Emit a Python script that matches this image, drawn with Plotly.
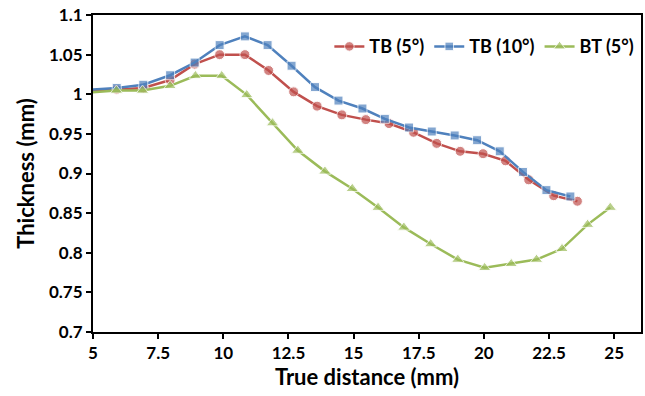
import plotly.graph_objects as go

# Thickness profiles along the true distance
tb5_x = [4.95, 5.91, 6.93, 7.96, 8.90, 9.86, 10.83, 11.74, 12.70, 13.60, 14.55,
         15.47, 16.36, 17.30, 18.19, 19.09, 19.97, 20.83, 21.72, 22.68, 23.59]
tb5_y = [1.004, 1.006, 1.008, 1.018, 1.038, 1.050, 1.050, 1.030, 1.003, 0.985, 0.974,
         0.968, 0.963, 0.952, 0.938, 0.928, 0.925, 0.916, 0.892, 0.872, 0.865]

tb10_x = [4.95, 5.91, 6.93, 7.96, 8.90, 9.86, 10.83, 11.70, 12.62, 13.52, 14.42,
          15.34, 16.20, 17.13, 18.00, 18.88, 19.74, 20.61, 21.50, 22.40, 23.32]
tb10_y = [1.006, 1.008, 1.012, 1.024, 1.040, 1.062, 1.073, 1.062, 1.036, 1.009, 0.992,
          0.982, 0.969, 0.958, 0.953, 0.948, 0.942, 0.928, 0.902, 0.879, 0.871]

bt5_x = [4.95, 5.90, 6.90, 7.96, 8.93, 9.94, 10.90, 11.89, 12.86, 13.90, 14.95,
         15.94, 16.93, 17.96, 19.00, 20.03, 21.05, 22.02, 23.00, 23.98, 24.85]
bt5_y = [1.0025, 1.0047, 1.0047, 1.0106, 1.0232, 1.0232, 0.9992, 0.9636, 0.929, 0.9027, 0.8808,
         0.857, 0.832, 0.811, 0.7914, 0.781, 0.786, 0.7914, 0.805, 0.8355, 0.857]

series_names = ["TB (5°)", "TB (10°)", "BT (5°)"]

x_ticks = [5, 7.5, 10, 12.5, 15, 17.5, 20, 22.5, 25]
x_tick_text = ["5", "7.5", "10", "12.5", "15", "17.5", "20", "22.5", "25"]
y_ticks = [0.7, 0.75, 0.8, 0.85, 0.9, 0.95, 1.0, 1.05, 1.1]
y_tick_text = ["0.7", "0.75", "0.8", "0.85", "0.9", "0.95", "1", "1.05", "1.1"]

FONT = "Lato"

def sizes(n, s):
    # first sample sits just outside the axis range; hide its marker
    return [0] + [s] * (n - 1)

fig = go.Figure()
fig.add_trace(go.Scatter(
    x=tb5_x, y=tb5_y, name=series_names[0], mode="lines+markers",
    line=dict(color="#C0504D", width=2.5),
    marker=dict(symbol="circle", size=sizes(len(tb5_x), 10), color="#C0504D"),
))
fig.add_trace(go.Scatter(
    x=tb10_x, y=tb10_y, name=series_names[1], mode="lines+markers",
    line=dict(color="#4F81BD", width=2.5),
    marker=dict(symbol="square", size=sizes(len(tb10_x), 9), color="#4F81BD"),
))
fig.add_trace(go.Scatter(
    x=bt5_x, y=bt5_y, name=series_names[2], mode="lines+markers",
    line=dict(color="#9BBB59", width=2.5),
    marker=dict(symbol="triangle-up", size=sizes(len(bt5_x), 11), color="#9BBB59"),
))

axis_common = dict(
    showline=True, mirror=True, linecolor="black", linewidth=2,
    ticks="outside", ticklen=5, tickwidth=2, tickcolor="black",
    showgrid=False, zeroline=False,
    tickfont=dict(family=FONT, size=17, color="black", weight="bold"),
)

fig.update_xaxes(
    range=[5, 26.03], tickmode="array", tickvals=x_ticks, ticktext=x_tick_text,
    title=dict(text="True distance (mm)", standoff=6,
               font=dict(family=FONT, size=22, color="black", weight="bold")),
    **axis_common,
)
fig.update_yaxes(
    range=[0.7, 1.1], tickmode="array", tickvals=y_ticks, ticktext=y_tick_text,
    title=dict(text="Thickness (mm)", standoff=8,
               font=dict(family=FONT, size=22, color="black", weight="bold")),
    **axis_common,
)

fig.update_layout(
    width=645, height=396,
    margin=dict(l=93, r=2, t=15, b=64),
    paper_bgcolor="white", plot_bgcolor="white",
    legend=dict(
        orientation="h", x=0.997, xanchor="right", y=0.9, yanchor="middle",
        font=dict(family=FONT, size=18, color="black", weight="bold"),
        bgcolor="rgba(0,0,0,0)", itemwidth=30, tracegroupgap=0,
    ),
    showlegend=True,
)

fig.write_html("out.html")
